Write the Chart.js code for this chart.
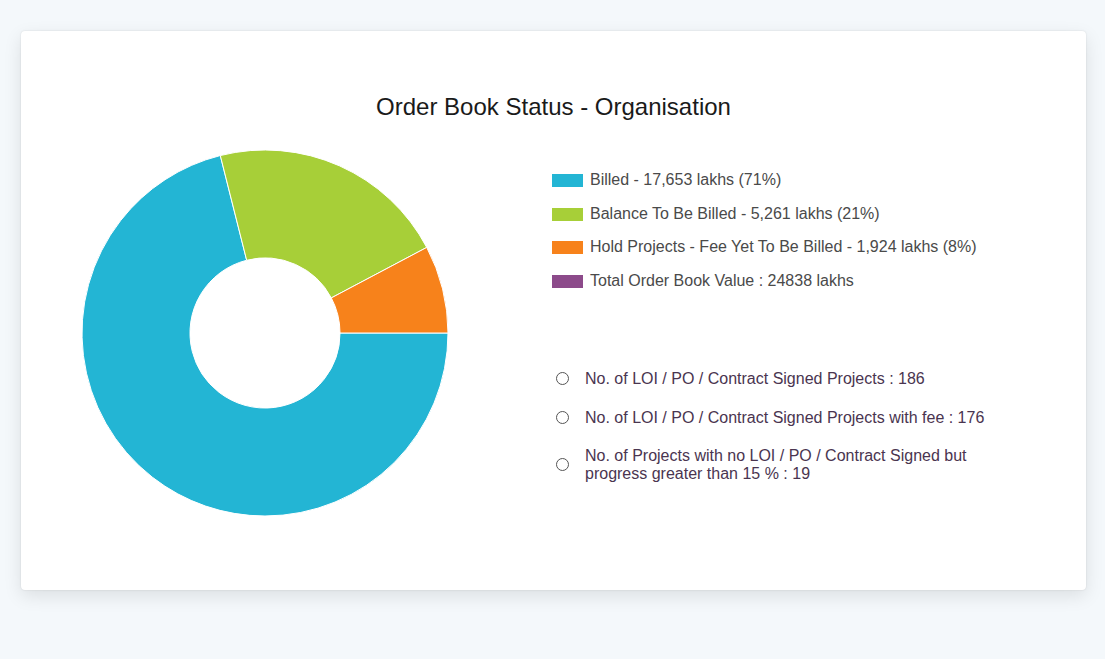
<!DOCTYPE html>
<html>
<head>
<meta charset="utf-8">
<script src="https://cdn.jsdelivr.net/npm/chart.js@4/dist/chart.umd.min.js"></script>
<style>
  html, body { margin: 0; padding: 0; }
  body { width: 1105px; height: 659px; background: #f4f8fb; position: relative; overflow: hidden;
         font-family: "Liberation Sans", Arial, sans-serif; }
  #card { position: absolute; left: 21px; top: 31px; width: 1065px; height: 559px; background: #fff;
          border-radius: 4px; box-shadow: 0 6px 18px rgba(0,0,0,0.10), 0 0 2px rgba(0,0,0,0.12); }
  #title { position: absolute; left: 0; top: 62px; width: 1065px; text-align: center; font-size: 24px; color: #1a1a1a; line-height: 28px; }
  #chartBox { position: absolute; left: 44px; top: 102px; width: 400px; height: 400px; }
  .leg { position: absolute; left: 531px; font-size: 16px; color: #4a4a4a; white-space: nowrap; line-height: 18px; }
  .sw { position: absolute; left: 0; top: 3px; width: 31px; height: 13px; }
  .leg .t { position: absolute; left: 38px; top: 0; }
  .leg2 { position: absolute; left: 535px; font-size: 16px; color: #4a3550; line-height: 18px; width: 460px; }
  .circ { position: absolute; left: 0; width: 11px; height: 11px; border: 1.5px solid #555; border-radius: 50%; }
  .leg2 .t { position: absolute; left: 29px; top: 0; white-space: pre; }
</style>
</head>
<body>
<div id="card">
  <div id="title"></div>
  <div id="chartBox"><canvas id="c" width="400" height="400"></canvas></div>
  <div id="legend"></div>
</div>
<script>
const categories = ["Billed", "Balance To Be Billed", "Hold Projects - Fee Yet To Be Billed"];
const values = [17653, 5261, 1924];
const colors = ["#23b5d4", "#a7cf38", "#f7821b"];
const totalLabel = "Total Order Book Value : 24838 lakhs";
const totalColor = "#8c4a8a";
const infoLabels = [
  "No. of LOI / PO / Contract Signed Projects : 186",
  "No. of LOI / PO / Contract Signed Projects with fee : 176",
  "No. of Projects with no LOI / PO / Contract Signed but\nprogress greater than 15 % : 19"
];
const titleText = "Order Book Status - Organisation";

document.getElementById('title').textContent = titleText;

const total = values.reduce((a, b) => a + b, 0);
const fmt = n => n.toLocaleString('en-US');
const legendItems = categories.map((c, i) => ({
  text: c + " - " + fmt(values[i]) + " lakhs (" + Math.round(values[i] / total * 100) + "%)",
  color: colors[i]
}));
legendItems.push({ text: totalLabel, color: totalColor });

const legend = document.getElementById('legend');
const rowTops = [140, 174, 207, 241];
legendItems.forEach((it, i) => {
  const d = document.createElement('div');
  d.className = 'leg';
  d.style.top = rowTops[i] + 'px';
  d.innerHTML = '<div class="sw" style="background:' + it.color + '"></div><span class="t"></span>';
  d.querySelector('.t').textContent = it.text;
  legend.appendChild(d);
});
const infoTops = [339, 378, 416];
const circTops = [341, 380, 427];
infoLabels.forEach((txt, i) => {
  const d = document.createElement('div');
  d.className = 'leg2';
  d.style.top = infoTops[i] + 'px';
  d.innerHTML = '<div class="circ" style="top:' + (circTops[i] - infoTops[i]) + 'px"></div><span class="t"></span>';
  d.querySelector('.t').textContent = txt;
  legend.appendChild(d);
});

new Chart(document.getElementById('c'), {
  type: 'doughnut',
  data: {
    labels: categories,
    datasets: [{
      data: values,
      backgroundColor: colors,
      borderColor: '#ffffff',
      borderWidth: 1,
      hoverOffset: 0
    }]
  },
  options: {
    responsive: false,
    animation: false,
    rotation: 90,
    radius: 183,
    cutout: '41%',
    layout: { padding: 0 },
    plugins: {
      legend: { display: false },
      title: { display: false },
      tooltip: { enabled: false }
    }
  }
});
</script>
</body>
</html>
